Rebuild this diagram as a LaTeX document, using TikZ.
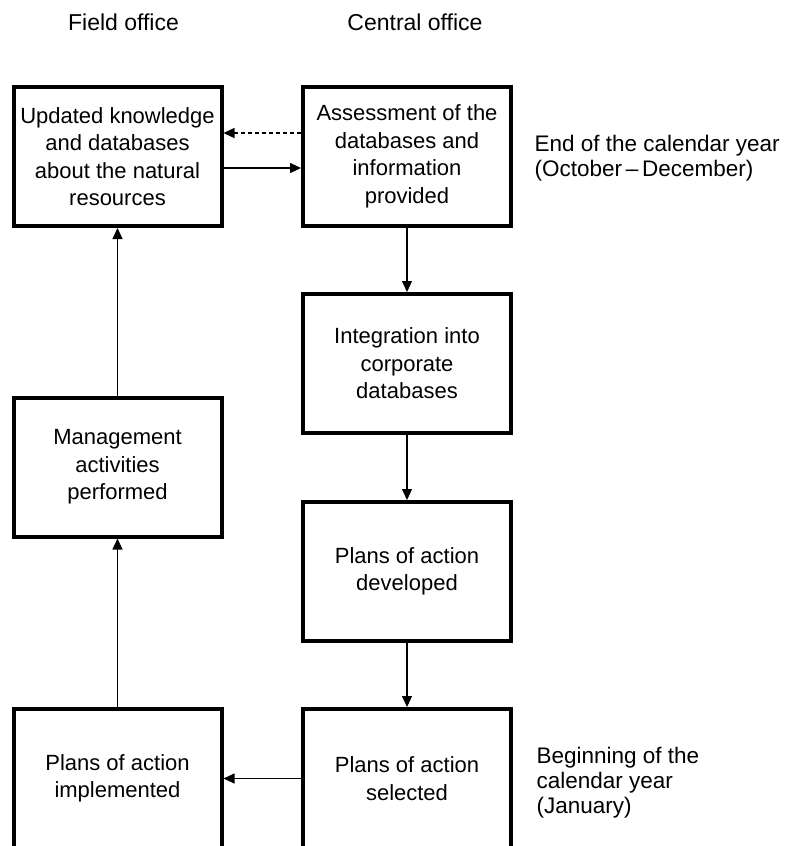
\documentclass[tikz,border=0pt]{standalone}
\usepackage{fontspec}
\setmainfont{Liberation Sans}
\usepackage{tikz}
\usetikzlibrary{arrows.meta}

\begin{document}
\begin{tikzpicture}[x=1pt,y=-1pt,
  stagebox/.style={draw, line width=4pt, minimum width=208pt, minimum height=139pt,
    align=center, inner sep=1pt, font=\fontsize{22}{27.5}\selectfont},
  headtext/.style={font=\fontsize{23}{27.5}\selectfont},
  sidetext/.style={anchor=west, align=left, font=\fontsize{22.5}{25}\selectfont},
  flow/.style={line width=1.2pt, -{Triangle[length=11pt,width=10pt]}}]
\useasboundingbox (0,0) rectangle (786,846);

% Column headers
\node[headtext] (fieldhead) at (123.5,22) {Field office};
\node[headtext] (centralhead) at (415,22) {Central office};

% Field office column
\node[stagebox] (upd) at (117.5,156.5) {Updated knowledge\\and databases\\about the natural\\resources};
\node[stagebox] (mgmt) at (117.5,467) {Management\\activities\\performed};
\node[stagebox] (impl) at (117.5,778.5) {Plans of action\\implemented};

% Central office column
\node[stagebox] (asm) at (407,156.5) {Assessment of the\\databases and\\information\\provided};
\node[stagebox] (integ) at (407,363.5) {Integration into\\corporate\\databases};
\node[stagebox] (dev) at (407,571.5) {Plans of action\\developed};
\node[stagebox] (sel) at (407,778.5) {Plans of action\\selected};

% Time of year
\node[sidetext] (endyear) at (531,158) {End of the calendar year\\(October\,–\,December)};
\node[sidetext] (beginyear) at (533,783) {Beginning of the\\calendar year\\(January)};

% Arrows
\draw[flow, dash pattern=on 4pt off 3pt] ([yshift=23.5pt]asm.west) -- ([yshift=23.5pt]upd.east);
\draw[flow] ([yshift=-11.5pt]upd.east) -- ([yshift=-11.5pt]asm.west);
\draw[flow] (asm) -- (integ);
\draw[flow] (integ) -- (dev);
\draw[flow] (dev) -- (sel);
\draw[flow] (sel) -- (impl);
\draw[flow] (impl) -- (mgmt);
\draw[flow] (mgmt) -- (upd);
\end{tikzpicture}
\end{document}
